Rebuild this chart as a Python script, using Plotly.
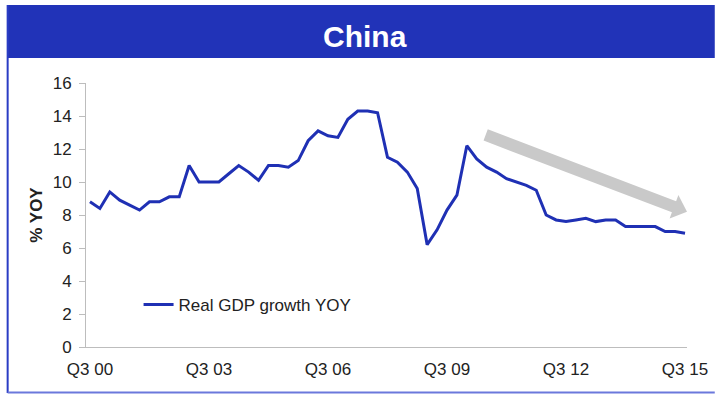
import plotly.graph_objects as go

# Quarterly real GDP growth, year on year (%), Q3 2000 .. Q3 2015
years = list(range(2000, 2016))
quarters = [f"Q{q} {y % 100:02d}" for y in years for q in (1, 2, 3, 4)][2:-1]

gdp_yoy = [
    8.8, 8.4, 9.4, 8.9, 8.6, 8.3, 8.8, 8.8, 9.1, 9.1,
    11.0, 10.0, 10.0, 10.0, 10.5, 11.0, 10.6, 10.1, 11.0, 11.0,
    10.9, 11.3, 12.5, 13.1, 12.8, 12.7, 13.8, 14.3, 14.3, 14.2,
    11.5, 11.2, 10.6, 9.6, 6.2, 7.1, 8.3, 9.2, 12.2, 11.4,
    10.9, 10.6, 10.2, 10.0, 9.8, 9.5, 8.0, 7.7, 7.6, 7.7,
    7.8, 7.6, 7.7, 7.7, 7.3, 7.3, 7.3, 7.3, 7.0, 7.0,
    6.9,
]

tick_labels = ["Q3 00", "Q3 03", "Q3 06", "Q3 09", "Q3 12", "Q3 15"]
series_name = "Real GDP growth YOY"
y_title = "% YOY"
title_text = "China"

# Trend arrow end points in data units (category index, % YOY)
arrow_tail = (39.9, 12.85)
arrow_tip = (60.2, 8.2)

W, H = 720, 395
ML, MR, MT, MB = 86, 28, 83, 48
X_RANGE = (-0.4, 60.2)
Y_RANGE = (0, 16)
PW, PH = W - ML - MR, H - MT - MB

BLUE = "#1f30b4"
GREY_AXIS = "#bdbdbd"
TEXT = "#222222"
FONT = "Liberation Sans, Arial, sans-serif"


def to_px(x, y):
    px = ML + (x - X_RANGE[0]) / (X_RANGE[1] - X_RANGE[0]) * PW
    py = MT + (Y_RANGE[1] - y) / (Y_RANGE[1] - Y_RANGE[0]) * PH
    return px, py


def to_data(px, py):
    x = X_RANGE[0] + (px - ML) / PW * (X_RANGE[1] - X_RANGE[0])
    y = Y_RANGE[1] - (py - MT) / PH * (Y_RANGE[1] - Y_RANGE[0])
    return x, y


def px_paper(px, py):
    return (px - ML) / PW, (MT + PH - py) / PH


def arrow_path(tail, tip, shaft_w=12, head_w=25, head_len=14):
    (x0, y0), (x1, y1) = to_px(*tail), to_px(*tip)
    dx, dy = x1 - x0, y1 - y0
    ln = (dx * dx + dy * dy) ** 0.5
    ux, uy = dx / ln, dy / ln
    nx, ny = -uy, ux
    bx, by = x1 - ux * head_len, y1 - uy * head_len
    pts = [
        (x0 + nx * shaft_w / 2, y0 + ny * shaft_w / 2),
        (bx + nx * shaft_w / 2, by + ny * shaft_w / 2),
        (bx + nx * head_w / 2, by + ny * head_w / 2),
        (x1, y1),
        (bx - nx * head_w / 2, by - ny * head_w / 2),
        (bx - nx * shaft_w / 2, by - ny * shaft_w / 2),
        (x0 - nx * shaft_w / 2, y0 - ny * shaft_w / 2),
    ]
    d = [to_data(*p) for p in pts]
    return "M " + " L ".join(f"{x:.4f},{y:.4f}" for x, y in d) + " Z"


fig = go.Figure()
fig.add_trace(go.Scatter(
    x=quarters, y=gdp_yoy, mode="lines", name=series_name,
    line=dict(color=BLUE, width=3),
))

shapes = []
# title banner
bx0, by0 = px_paper(7, 5)
bx1, by1 = px_paper(W, 58)
shapes.append(dict(type="rect", xref="paper", yref="paper", x0=bx0, x1=bx1, y0=by1, y1=by0,
                   fillcolor="#2133b8", line=dict(width=0), layer="below"))
# outer frame (left and bottom edges)
lx, ly0 = px_paper(7, 5)
_, ly1 = px_paper(7, 393)
shapes.append(dict(type="line", xref="paper", yref="paper", x0=lx, x1=lx, y0=ly0, y1=ly1,
                   line=dict(color="#2a3cc4", width=2)))
fx0, fy = px_paper(7, 392.5)
fx1, _ = px_paper(W, 392.5)
shapes.append(dict(type="line", xref="paper", yref="paper", x0=fx0, x1=fx1, y0=fy, y1=fy,
                   line=dict(color="#6b78dc", width=2)))
# trend arrow
shapes.append(dict(type="path", xref="x", yref="y", path=arrow_path(arrow_tail, arrow_tip),
                   fillcolor="#c9c9c9", line=dict(width=0), layer="above"))

tx, ty = px_paper(367, 37)
lgx, lgy = px_paper(139, 305)

fig.update_layout(
    width=W, height=H,
    margin=dict(l=ML, r=MR, t=MT, b=MB),
    paper_bgcolor="white", plot_bgcolor="white",
    font=dict(family=FONT, size=17, color=TEXT),
    showlegend=True,
    legend=dict(x=lgx, y=lgy, xanchor="left", yanchor="middle",
                bgcolor="rgba(0,0,0,0)", font=dict(size=17, color=TEXT),
                itemwidth=30, borderwidth=0),
    shapes=shapes,
    annotations=[dict(text=f"<b>{title_text}</b>", xref="paper", yref="paper", x=tx, y=ty,
                      xanchor="center", yanchor="middle", showarrow=False,
                      font=dict(family=FONT, size=30, color="white"))],
    xaxis=dict(
        type="category", range=list(X_RANGE), tickmode="array",
        tickvals=tick_labels, ticktext=tick_labels,
        showline=True, linecolor=GREY_AXIS, linewidth=1, ticks="",
        showgrid=False, zeroline=False, tickfont=dict(size=17, color=TEXT),
        ticklabelstandoff=7,
    ),
    yaxis=dict(
        range=list(Y_RANGE), dtick=2, tick0=0,
        showline=True, linecolor=GREY_AXIS, linewidth=1,
        ticks="outside", ticklen=6, tickcolor=GREY_AXIS,
        showgrid=False, zeroline=False, tickfont=dict(size=17, color=TEXT),
        ticklabelstandoff=4,
        title=dict(text=f"<b>{y_title}</b>", font=dict(size=17, color=TEXT), standoff=5),
    ),
)

fig.write_html("out.html")
